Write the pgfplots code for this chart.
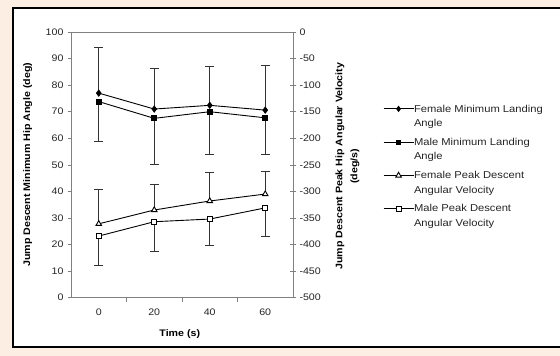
\documentclass[border=0pt]{standalone}
\usepackage{pgfplots}
\pgfplotsset{compat=1.18}
\usepackage{fontspec}
\setmainfont{Liberation Sans}[FakeStretch=1.12]
\definecolor{bgc}{RGB}{253,238,228}
\definecolor{axg}{RGB}{128,128,128}
\begin{document}
\begin{tikzpicture}[x=1pt,y=1pt]
\fill[bgc] (0,0) rectangle (560,356);
\fill[white] (12.5,8.5) rectangle (561,347.5);
\draw[black,line width=2pt] (561,347.5) -- (12.5,347.5) -- (12.5,8.5) -- (561,8.5);
\begin{axis}[
  at={(71pt,58.3pt)}, anchor=south west,
  scale only axis, width=222pt, height=265.7pt,
  xmin=-10, xmax=70, ymin=0, ymax=100,
  xtick={0,20,40,60}, minor xtick={10,30,50},
  ytick={0,10,...,100},
  xtick pos=bottom, ytick pos=left,
  major x tick style={draw=none},
  tick align=outside, major tick length=3pt, minor tick length=4pt,
  tick style={axg, line width=0.6pt},
  axis line style={axg, line width=0.8pt},
  ticklabel style={font=\fontsize{9.5}{11}\selectfont, text=black!85},
  /pgf/number format/assume math mode=true,
  xticklabel style={yshift=-5pt},
  yticklabel style={xshift=-1pt},
  xlabel={Time (s)},
  ylabel={Jump Descent Minimum Hip Angle (deg)},
  label style={font=\bfseries\fontsize{9.5}{11}\selectfont},
  xlabel style={at={(axis description cs:0.49,-0.137)}, anchor=center},
  ylabel style={at={(axis description cs:-0.195,0.5)}, anchor=center},
  clip=false,
]
\addplot[black, line width=0.9pt, mark=diamond*, mark size=3pt,
  error bars/.cd, y dir=plus, y explicit,
  error bar style={black!80, line width=0.8pt},
  error mark options={rotate=90, mark size=4.5pt, black!80, line width=0.8pt}]
  table[x=x, y=y, y error=e] {
x y e
0 77.0 17.2
20 71.0 15.3
40 72.4 14.8
60 70.6 16.7
};
\addplot[black, line width=0.9pt, mark=square*, mark size=2.6pt,
  error bars/.cd, y dir=minus, y explicit,
  error bar style={black!80, line width=0.8pt},
  error mark options={rotate=90, mark size=4.5pt, black!80, line width=0.8pt}]
  table[x=x, y=y, y error=e] {
x y e
0 73.8 14.8
20 67.5 17.3
40 70.0 16.0
60 67.7 13.7
};
\end{axis}
\begin{axis}[
  at={(71pt,58.3pt)}, anchor=south west,
  scale only axis, width=222pt, height=265.7pt,
  xmin=-10, xmax=70, ymin=-500, ymax=0,
  axis x line=none, axis y line*=right,
  ytick={-500,-450,...,0},
  tick align=center, major tick length=6pt,
  tick style={axg, line width=0.6pt},
  axis line style={axg, line width=0.8pt},
  ticklabel style={font=\fontsize{9.5}{11}\selectfont, text=black!85},
  /pgf/number format/assume math mode=true,
  yticklabel style={xshift=0pt},
  ylabel={Jump Descent Peak Hip Angular Velocity\\(deg/s)},
  ylabel style={font=\bfseries\fontsize{9.5}{15}\selectfont, align=center,
    at={(axis description cs:1.245,0.495)}, anchor=center},
  clip=false,
  legend cell align=left,
  legend style={at={(axis description cs:1.405,0.737)}, anchor=north west,
    draw=none, fill=none, inner sep=0pt, row sep=4.3pt,
    font=\fontsize{10}{14.5}\selectfont,
    cells={anchor=base west},
    nodes={inner sep=0pt, text=black!85, text height=10pt, text depth=19pt}},
  legend image code/.code={
    \draw[#1, mark repeat=2, mark phase=2] plot coordinates {(0pt,3.2pt) (15pt,3.2pt) (30pt,3.2pt)};},
]
\addlegendimage{black, line width=0.9pt, mark=diamond*, mark size=2.5pt}
\addlegendentry{\begin{tabular}[t]{@{}l@{}}Female Minimum Landing\\Angle\end{tabular}}
\addlegendimage{black, line width=0.9pt, mark=square*, mark size=2.2pt}
\addlegendentry{\begin{tabular}[t]{@{}l@{}}Male Minimum Landing\\Angle\end{tabular}}
\addplot[black, line width=0.9pt, mark=triangle*, mark size=3.2pt, mark options={fill=white},
  error bars/.cd, y dir=plus, y explicit,
  error bar style={black!80, line width=0.8pt},
  error mark options={rotate=90, mark size=4.5pt, black!80, line width=0.8pt}]
  table[x=x, y=y, y error=e] {
x y e
0 -361 64
20 -335 48
40 -318 53
60 -305 43
};
\addlegendentry{\begin{tabular}[t]{@{}l@{}}Female Peak Descent\\Angular Velocity\end{tabular}}
\addplot[black, line width=0.9pt, mark=square*, mark size=2.5pt, mark options={fill=white},
  error bars/.cd, y dir=minus, y explicit,
  error bar style={black!80, line width=0.8pt},
  error mark options={rotate=90, mark size=4.5pt, black!80, line width=0.8pt}]
  table[x=x, y=y, y error=e] {
x y e
0 -384 56
20 -357 55
40 -352 49
60 -331 54
};
\addlegendentry{\begin{tabular}[t]{@{}l@{}}Male Peak Descent\\Angular Velocity\end{tabular}}
\end{axis}
\pgfresetboundingbox
\useasboundingbox (0,0) rectangle (560,356);
\end{tikzpicture}
\end{document}
